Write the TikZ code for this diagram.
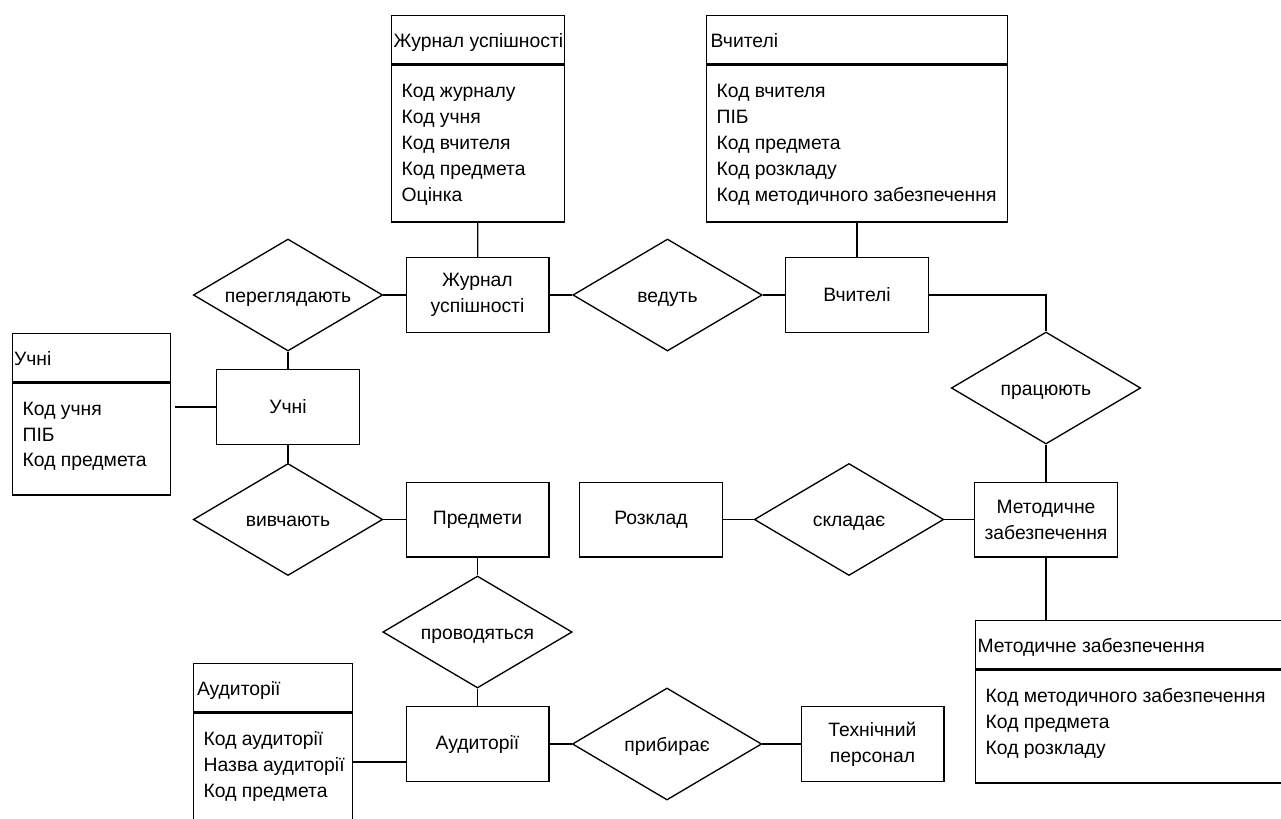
\documentclass[tikz,border=0pt]{standalone}
\usepackage{fontspec}
\setmainfont{Liberation Sans}
\usetikzlibrary{shapes.geometric}

\begin{document}
\begin{tikzpicture}
      [x=0.75pt, y=-0.75pt, line width=1pt,
       every node/.style={font=\fontsize{14.5}{19.5}\selectfont},
       entity/.style={draw, minimum width=107pt, minimum height=56pt, align=center, inner sep=0pt},
       rel/.style={draw, diamond, aspect=1.7, minimum width=142pt, minimum height=84pt, inner sep=0pt,
                   text height=12pt, text depth=1pt},
       tbox/.style={draw, anchor=north west, inner sep=0pt, minimum height=36pt},
       ttitle/.style={anchor=west, inner sep=0pt, text height=10pt, text depth=3pt, yshift=-2pt},
       field/.style={anchor=base west, inner sep=0pt},
      ]
      \useasboundingbox (0,0) rectangle (1281,818);
      \fill[white] (0,0) rectangle (1281,818);
      \clip (0,0) rectangle (1281,818);

      % entities
      \node[entity] (Jrnl) at (477.5,295) {Журнал\\успішності};
      \node[entity] (Teach) at (857,295) {Вчителі};
      \node[entity] (Pupil) at (288,407) {Учні};
      \node[entity] (Subj) at (477.5,519.5) {Предмети};
      \node[entity] (Sched) at (651,519.5) {Розклад};
      \node[entity] (Metod) at (1046,519.5) {Методичне\\забезпечення};
      \node[entity] (Aud) at (477.5,744) {Аудиторії};
      \node[entity] (Staff) at (872.5,744) {Технічний\\персонал};

      % relations
      \node[rel] (View) at (288,295) {переглядають};
      \node[rel] (Keep) at (667.5,295) {ведуть};
      \node[rel] (Work) at (1046,388) {працюють};
      \node[rel] (Study) at (288,519.5) {вивчають};
      \node[rel] (Make) at (849,519.5) {складає};
      \node[rel] (Held) at (477.5,632) {проводяться};
      \node[rel] (Clean) at (667,744) {прибирає};

      % tables
      \node[tbox, minimum width=129.75pt] (tJrnl) at (391,15) {};
      \node[tbox, minimum width=129.75pt, minimum height=117.75pt] (tJrnlB) at (tJrnl.south west) {};
      \node[ttitle] (tJrnlT) at ([xshift=1.5pt]tJrnl.west) {Журнал успішності};
      \foreach \f [count=\i] in {Код журналу, Код учня, Код вчителя, Код предмета, Оцінка}
        \node[field] (tJrnl\i) at ([xshift=7.5pt, yshift=-5.25pt-19.5pt*\i]tJrnlB.north west) {\f};

      \node[tbox, minimum width=225.75pt] (tTeach) at (706,15) {};
      \node[tbox, minimum width=225.75pt, minimum height=117.75pt] (tTeachB) at (tTeach.south west) {};
      \node[ttitle] (tTeachT) at ([xshift=3pt]tTeach.west) {Вчителі};
      \foreach \f [count=\i] in {Код вчителя, ПІБ, Код предмета, Код розкладу, Код методичного забезпечення}
        \node[field] (tTeach\i) at ([xshift=7.5pt, yshift=-5.25pt-19.5pt*\i]tTeachB.north west) {\f};

      \node[tbox, minimum width=118.5pt] (tPupil) at (12,333) {};
      \node[tbox, minimum width=118.5pt, minimum height=84pt] (tPupilB) at (tPupil.south west) {};
      \node[ttitle] (tPupilT) at ([xshift=1pt]tPupil.west) {Учні};
      \foreach \f [count=\i] in {Код учня, ПІБ, Код предмета}
        \node[field] (tPupil\i) at ([xshift=7.5pt, yshift=-6pt-19pt*\i]tPupilB.north west) {\f};

      \node[tbox, minimum width=119.25pt] (tAud) at (193,663) {};
      \node[tbox, minimum width=119.25pt, minimum height=90pt] (tAudB) at (tAud.south west) {};
      \node[ttitle] (tAudT) at ([xshift=2.5pt]tAud.west) {Аудиторії};
      \foreach \f [count=\i] in {Код аудиторії, Назва аудиторії, Код предмета}
        \node[field] (tAud\i) at ([xshift=7.5pt, yshift=-5.25pt-19.5pt*\i]tAudB.north west) {\f};

      \node[tbox, minimum width=240pt] (tMetod) at (975,620) {};
      \node[tbox, minimum width=240pt, minimum height=84.75pt] (tMetodB) at (tMetod.south west) {};
      \node[ttitle] (tMetodT) at ([xshift=1.5pt]tMetod.west) {Методичне забезпечення};
      \foreach \f [count=\i] in {Код методичного забезпечення, Код предмета, Код розкладу}
        \node[field] (tMetod\i) at ([xshift=7.5pt, yshift=-5.25pt-19.5pt*\i]tMetodB.north west) {\f};

      % links
      \draw (tJrnlB) -- (Jrnl);
      \draw (Teach.north) -- (Teach.north |- tTeachB.south);
      \draw (View) -- (Jrnl);
      \draw (Jrnl) -- (Keep);
      \draw (Keep) -- (Teach);
      \draw (Teach.east) -| (Work.north);
      \draw (Work) -- (Metod);
      \draw (Metod) -- (Make);
      \draw (Make) -- (Sched);
      \draw (Metod.south) -- (Metod.south |- tMetod.north);
      \draw (View) -- (Pupil);
      \draw (Pupil) -- (Study);
      \draw (Pupil.west) -- ([xshift=3pt]Pupil.west -| tPupilB.east);
      \draw (Study) -- (Subj);
      \draw (Subj) -- (Held);
      \draw (Held) -- (Aud);
      \draw ([yshift=-13.5pt]Aud.west) -- ([yshift=-13.5pt]Aud.west -| tAudB.east);
      \draw (Aud) -- (Clean);
      \draw (Clean) -- (Staff);
    \end{tikzpicture}
\end{document}
